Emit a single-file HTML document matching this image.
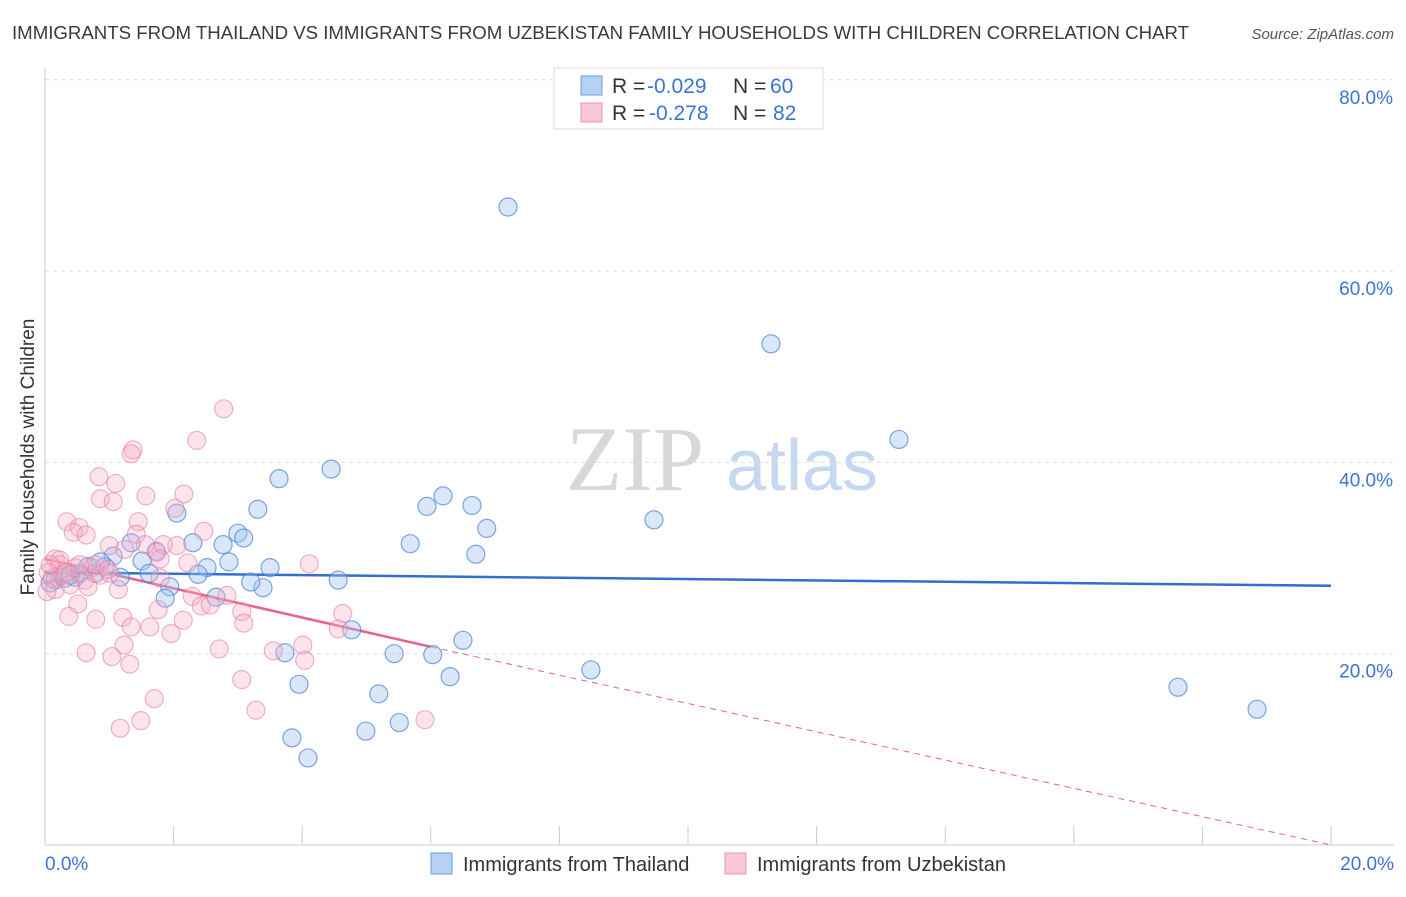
<!DOCTYPE html>
<html><head><meta charset="utf-8"><style>
body{margin:0;background:#fff;font-family:"Liberation Sans",sans-serif;}
svg text{font-family:"Liberation Sans",sans-serif;}
</style></head><body>
<svg id="chart" width="1406" height="892" viewBox="0 0 1406 892" xmlns="http://www.w3.org/2000/svg">
<text x="12" y="39" font-size="18" fill="#3a3a3a" textLength="1177" lengthAdjust="spacingAndGlyphs">IMMIGRANTS FROM THAILAND VS IMMIGRANTS FROM UZBEKISTAN FAMILY HOUSEHOLDS WITH CHILDREN CORRELATION CHART</text>
<text x="1394" y="39" font-size="15" fill="#555" font-style="italic" text-anchor="end">Source: ZipAtlas.com</text>
<g>
<text x="635" y="490" font-size="92" fill="#d8d8d8" text-anchor="middle" style="font-family:'Liberation Serif',serif">ZIP</text>
<text x="802" y="490" font-size="72" fill="#c5d8f0" text-anchor="middle">atlas</text>
</g>
<g id="grid"></g>
<g id="axes"></g>
<g id="lines"></g>
<g id="pts"></g>
<text transform="translate(34,457) rotate(-90)" font-size="19" fill="#333" text-anchor="middle">Family Households with Children</text>
<g>
<rect x="554" y="68" width="269" height="61" fill="#fff" stroke="#ddd"/>
<rect x="581" y="76" width="21" height="19" fill="#b7d0f3" stroke="#6d9ee0"/>
<rect x="581" y="103" width="21" height="19" fill="#f9c6d6" stroke="#ec93b0"/>
<text x="612" y="93" font-size="21" fill="#333">R = <tspan fill="#3b74d1" x="647">-0.029</tspan><tspan x="733">N = </tspan><tspan fill="#3b74d1" x="770">60</tspan></text>
<text x="612" y="120" font-size="21" fill="#333">R = <tspan fill="#3b74d1" x="649">-0.278</tspan><tspan x="733">N = </tspan><tspan fill="#3b74d1" x="773">82</tspan></text>
</g>
<g>
<rect x="431" y="853" width="21" height="21" fill="#b7d0f3" stroke="#6d9ee0"/>
<text x="463" y="871" font-size="20" fill="#333">Immigrants from Thailand</text>
<rect x="725" y="853" width="21" height="21" fill="#f9c6d6" stroke="#ec93b0"/>
<text x="757" y="871" font-size="20" fill="#333">Immigrants from Uzbekistan</text>
</g>
</svg>
<script>
const xTicks=[0,2,4,6,8,10,12,14,16,18,20];
const yTicks=[20,40,60,80];
const blueX=[7.20,11.29,13.28,4.45,3.64,6.19,5.94,6.64,3.31,2.05,6.87,9.47,3.00,3.09,5.68,2.77,2.30,1.34,1.73,6.70,1.06,2.86,1.51,3.50,2.52,1.62,2.38,3.39,4.56,3.20,1.94,1.87,2.66,4.77,6.50,3.73,5.43,6.03,8.49,6.30,3.95,17.62,5.19,18.85,5.51,4.99,3.84,4.09,1.17,0.78,0.47,0.16,0.23,0.67,0.93,0.54,0.08,0.31,0.86,0.39];
const blueY=[66.7,52.4,42.4,39.3,38.3,36.5,35.4,35.5,35.1,34.7,33.1,34.0,32.6,32.1,31.5,31.4,31.6,31.6,30.7,30.4,30.2,29.6,29.7,29.0,29.0,28.4,28.3,26.9,27.7,27.5,27.0,25.8,25.9,22.5,21.4,20.1,20.0,19.9,18.3,17.6,16.8,16.5,15.8,14.2,12.8,11.9,11.2,9.1,28.0,28.4,28.0,27.7,28.2,29.1,29.1,28.4,27.4,27.9,29.6,28.2];
const pinkX=[2.78,2.36,1.37,1.34,0.84,1.10,0.86,1.06,1.57,2.16,2.02,0.34,0.53,0.44,0.64,1.45,2.47,1.42,2.05,1.74,1.84,1.00,1.24,1.56,2.22,1.79,4.11,0.16,0.23,0.47,0.73,0.05,0.11,0.28,0.62,0.86,1.01,1.14,0.67,0.16,0.03,1.79,2.29,2.43,2.57,3.06,2.83,0.51,0.37,0.79,1.21,1.76,1.34,1.63,2.15,1.96,4.56,4.63,3.09,3.55,4.01,4.04,2.71,1.23,0.64,1.04,1.32,3.06,1.70,3.28,1.49,1.17,5.91,0.23,0.08,0.39,0.78,0.33,0.54,0.98];
const pinkY=[45.6,42.3,41.3,40.9,38.5,37.8,36.2,35.9,36.5,36.7,35.2,33.8,33.2,32.7,32.4,33.8,32.8,32.5,31.3,30.6,31.4,31.3,30.9,31.4,29.5,29.9,29.4,29.9,29.3,29.0,29.0,28.5,27.9,28.2,27.7,28.2,28.4,26.7,27.0,26.7,26.5,27.9,26.0,25.0,25.1,24.4,26.1,25.2,23.9,23.6,23.8,24.6,22.8,22.8,23.5,22.1,22.6,24.2,23.2,20.3,20.9,19.3,20.5,20.9,20.1,19.7,18.9,17.3,15.3,14.1,13.0,12.2,13.1,29.8,29.3,27.2,29.3,28.5,29.3,28.8];
const blueFit=[28.5,27.1];
const pinkFit=[29.9,-1.53];
const pinkSolidEnd=6.0;
const NS='http://www.w3.org/2000/svg';
const X0=45,X1=1331,Y0=845,YPER=191.3/20;
const sx=v=>X0+(v/20)*(X1-X0);
const sy=v=>Y0-v*YPER;
function mk(t,a,p){const e=document.createElementNS(NS,t);for(const k in a)e.setAttribute(k,a[k]);p.appendChild(e);return e;}
const grid=document.getElementById('grid'),axes=document.getElementById('axes'),lines=document.getElementById('lines'),pts=document.getElementById('pts');
yTicks.forEach(v=>{
 const l=mk('line',{x1:X0,x2:1394,y1:sy(v),y2:sy(v),stroke:'#ddd','stroke-dasharray':'4,4'},grid);
 
 
 const t=mk('text',{x:1393,y:sy(v)+24,'font-size':19,fill:'#3b74d1','text-anchor':'end'},axes);
 t.textContent=v.toFixed(1)+'%';
 
 
});
mk('line',{x1:X0,x2:X0,y1:68,y2:Y0,stroke:'#ccc'},axes);
mk('line',{x1:X0,x2:1394,y1:Y0,y2:Y0,stroke:'#ccc'},axes);
xTicks.forEach(v=>{
 const l=mk('line',{x1:sx(v),x2:sx(v),y1:826,y2:Y0,stroke:'#ccc'},axes);
 
 
});
[[0,'start',45],[20,'end',1394]].forEach(([v,a,x])=>{
 const t=mk('text',{x:x,y:870,'font-size':19,fill:'#3b74d1','text-anchor':a},axes);
 t.textContent=v.toFixed(1)+'%';
 
 
});
blueX.forEach((v,i)=>{
 const c=mk('circle',{cx:sx(v),cy:sy(blueY[i]),r:9,fill:'rgba(160,195,240,0.4)',stroke:'rgba(70,130,215,0.7)','stroke-width':1.2},pts);
 
 
});
pinkX.forEach((v,i)=>{
 const c=mk('circle',{cx:sx(v),cy:sy(pinkY[i]),r:9,fill:'rgba(245,175,200,0.35)',stroke:'rgba(230,120,155,0.55)','stroke-width':1.2},pts);
 
 
});
const bl=mk('line',{x1:sx(0),y1:sy(blueFit[0]),x2:sx(20),y2:sy(blueFit[1]),stroke:'#2f6fd0','stroke-width':2.5},lines);


const pf=x=>pinkFit[0]+pinkFit[1]*x;
const pl=mk('line',{x1:sx(0),y1:sy(pf(0)),x2:sx(pinkSolidEnd),y2:sy(pf(pinkSolidEnd)),stroke:'#e8628c','stroke-width':2.5},lines);


const pd=mk('line',{x1:sx(pinkSolidEnd),y1:sy(pf(pinkSolidEnd)),x2:sx(20),y2:sy(Math.max(pf(20),0)),stroke:'#e8628c','stroke-width':1,'stroke-dasharray':'6,5'},lines);


</script>
</body></html>
